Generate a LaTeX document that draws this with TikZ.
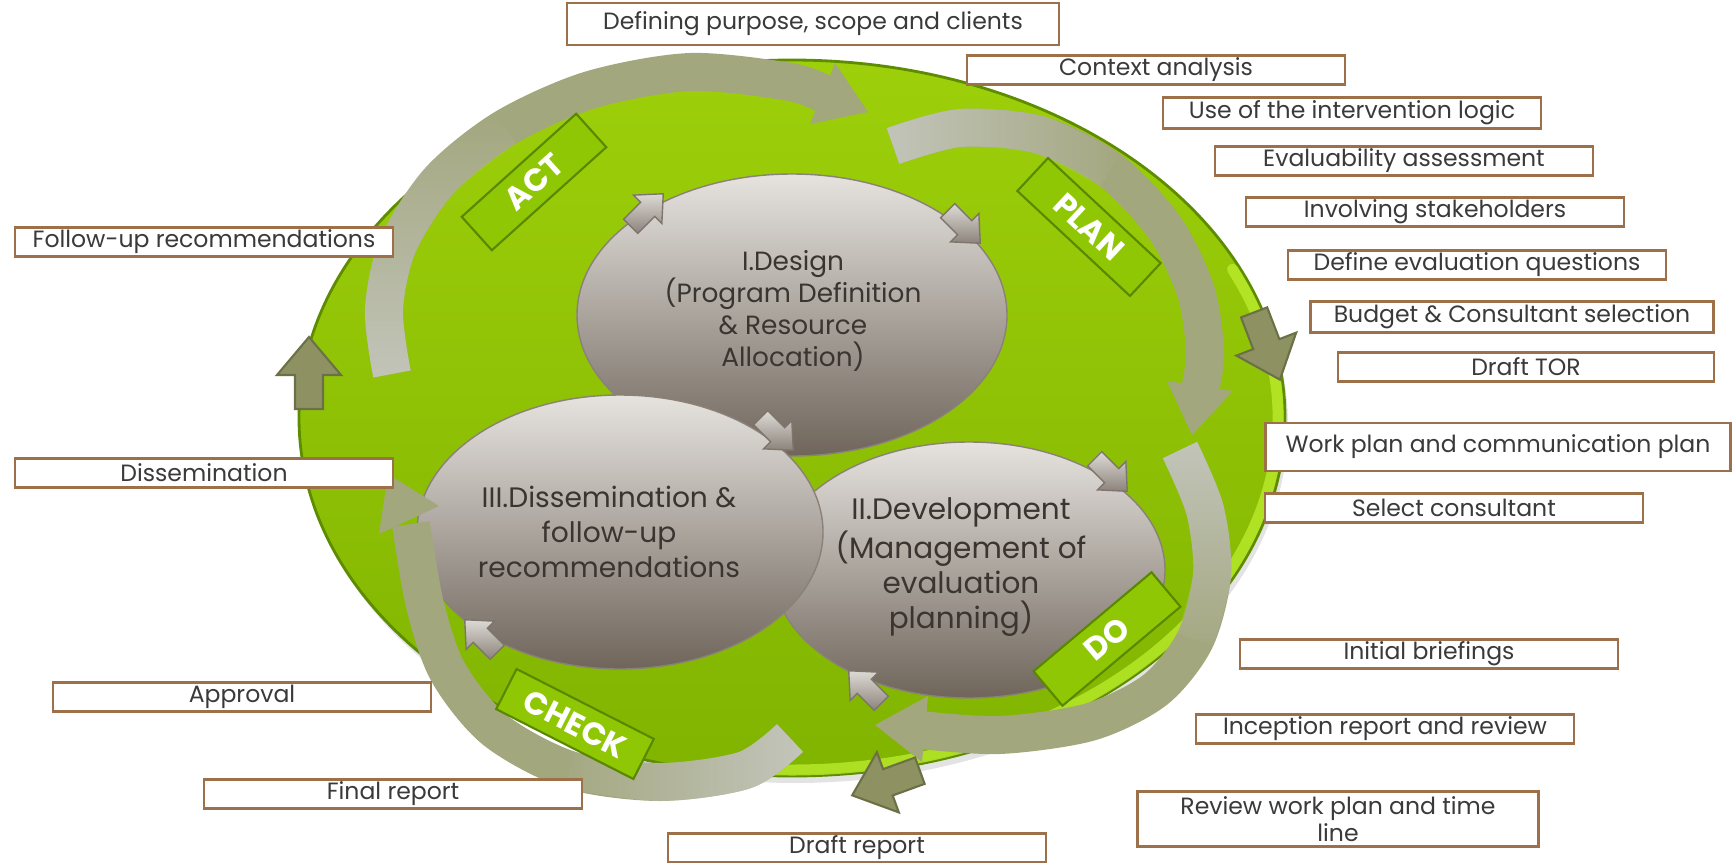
\documentclass[tikz,border=0pt]{standalone}
\usepackage{fontspec}
\setmainfont{Poppins}
\usetikzlibrary{arrows.meta,shapes.geometric,shadows,fadings,positioning}

\definecolor{leafTop}{HTML}{9DCF0A}
\definecolor{leafBot}{HTML}{80B400}
\definecolor{leafEdge}{HTML}{5E8C00}
\definecolor{leafGlow}{HTML}{BDEE2E}
\definecolor{phaseTop}{HTML}{E6E3DF}
\definecolor{phaseBot}{HTML}{6F655B}
\definecolor{phaseEdge}{HTML}{8A8178}
\definecolor{phaseText}{HTML}{3A3531}
\definecolor{stageFill}{HTML}{8FC705}
\definecolor{stageEdge}{HTML}{5A8700}
\definecolor{noteBrown}{HTML}{9C7049}
\definecolor{noteText}{HTML}{3A3A3A}
\definecolor{loopHead}{HTML}{A3A77E}
\definecolor{loopTail}{HTML}{C4C6BD}
\definecolor{nudgeTop}{HTML}{DDDAD5}
\definecolor{nudgeBot}{HTML}{8C847B}
\definecolor{nudgeEdge}{HTML}{7E766E}
\definecolor{pushFill}{HTML}{8E9263}
\definecolor{pushEdge}{HTML}{6C7046}

\tikzfading[name=tailfade, left color=transparent!0, right color=transparent!100]

\tikzset{
  notebox/.style={draw=noteBrown, line width=0.7pt, fill=white, minimum width=37.8mm,
    minimum height=2.9mm, inner sep=0pt, text=noteText, font=\fontsize{6.7}{7.8}\selectfont},
  phase/.style={ellipse, draw=phaseEdge, line width=0.4pt, top color=phaseTop,
    bottom color=phaseBot, inner sep=0pt},
  phasetext/.style={align=center, text=phaseText, font=\fontsize{8.4}{10}\selectfont},
  stage/.style={draw=stageEdge, fill=stageFill, line width=0.6pt, text=white,
    font=\fontsize{9}{10}\selectfont\bfseries, minimum width=15.4mm, minimum height=4.5mm, inner sep=0pt},
  loop body/.style={line width=3.8mm, draw=loopHead},
  loop head/.style={fill=loopHead},
  loop tail/.style={line width=3.8mm, draw=loopTail, path fading=tailfade},
  nudge/.pic={\shade[draw=nudgeEdge, line width=0.4pt, top color=nudgeTop, bottom color=nudgeBot]
    (-23,-10) -- (1,-10) -- (1,-20) -- (23,0) -- (1,20) -- (1,10) -- (-23,10) -- cycle;},
  push/.pic={\draw[pushEdge, fill=pushFill, line width=0.6pt]
    (-36,-14) -- (-2,-14) -- (-2,-32) -- (36,0) -- (-2,32) -- (-2,14) -- (-36,14) -- cycle;}
}

\begin{document}
\begin{tikzpicture}[x=0.1mm,y=-0.1mm]
\useasboundingbox (0,0) rectangle (1733,862);

% the green disc
\node[ellipse, draw=leafEdge, line width=0.8pt, top color=leafTop, bottom color=leafBot,
  minimum width=98.6mm, minimum height=71.6mm,
  drop shadow={shadow xshift=0.3mm, shadow yshift=-0.7mm, opacity=0.22}] (disc) at (792,418) {};
\draw[leafGlow, line width=1.1mm, opacity=0.75, line cap=round]
  (792,418) ++(-25:486 and 352) arc[start angle=-25, end angle=100, x radius=486, y radius=352];

% three phases
\node[phase, minimum width=43mm, minimum height=28.2mm] (design) at (792,315) {};
\node[phase, minimum width=39.2mm, minimum height=25.6mm] (develop) at (969,570) {};
\node[phase, minimum width=40.6mm, minimum height=27.4mm] (dissem) at (620,532) {};

\node[phasetext, font=\fontsize{7.5}{9.1}\selectfont] (designtxt) at (793,311) {I.Design\\(Program Definition\\\& Resource\\Allocation)};
\node[phasetext] (developtxt) at (961,567) {II.Development\\(Management of\\evaluation\\planning)};
\node[phasetext, font=\fontsize{8}{10}\selectfont] (dissemtxt) at (609,532) {III.Dissemination \&\\follow-up\\recommendations};

% small arrows round the phases
\pic[rotate=45] at (647,210) {nudge};
\pic[rotate=-45] at (964,227) {nudge};
\pic[rotate=-45] at (777,434) {nudge};
\pic[rotate=-45] at (1111,475) {nudge};
\pic[rotate=135] at (865,687) {nudge};
\pic[rotate=135] at (481,636) {nudge};

% the four loop arrows: body, faded tail, head
\draw[loop body] plot[smooth] coordinates {(392,374) (384,310) (398,245) (440,180) (505,128) (590,90) (690,72) (790,82) (826,95)};
\draw[loop tail, fading angle=90] plot[smooth] coordinates {(392,374) (384,310) (398,245) (440,180) (505,128)};
\fill[loop head] (810,124) -- (868,112) -- (835,63) -- cycle;

\draw[loop body] plot[smooth] coordinates {(893,146) (960,128) (1040,135) (1110,170) (1165,228) (1196,292) (1205,352) (1200,390)};
\draw[loop tail] plot[smooth] coordinates {(893,146) (960,128) (1040,135) (1110,170)};
\fill[loop head] (1167,381) -- (1192,435) -- (1233,391) -- cycle;

\draw[loop body] plot[smooth] coordinates {(1180,450) (1205,510) (1212,575) (1195,640) (1155,690) (1090,722) (1000,735) (921,730)};
\draw[loop tail, fading angle=-90] plot[smooth] coordinates {(1180,450) (1205,510) (1212,575) (1195,640)};
\fill[loop head] (928,696) -- (875,725) -- (922,762) -- cycle;

\draw[loop body] plot[smooth] coordinates {(790,738) (745,770) (660,782) (570,770) (495,730) (448,672) (425,605) (411,524)};
\draw[loop tail, fading angle=180] plot[smooth] coordinates {(790,738) (745,770) (660,782) (570,770)};
\fill[loop head] (439,506) -- (388,474) -- (379,534) -- cycle;

% stage tags
\node[stage, rotate=42] (act) at (534,182) {ACT};
\node[stage, rotate=-43] (plan) at (1089,227) {PLAN};
\node[stage, rotate=40] (do) at (1107,639) {DO};
\node[stage, rotate=-27] (check) at (575,724) {CHECK};

% olive arrows at the rim
\pic[rotate=90] at (309,373) {push};
\pic[rotate=-69] at (1267,346) {push};
\pic[rotate=200] at (886,783) {push};

% notes
\node[notebox, minimum width=49.2mm, minimum height=4.2mm] (purpose) at (813,24) {Defining purpose, scope and clients};
\node[notebox] (context) at (1156,70) {Context analysis};
\node[notebox, minimum height=3.1mm] (logic) at (1352,113) {Use of the intervention logic};
\node[notebox] (evaluab) at (1404,161) {Evaluability assessment};
\node[notebox] (stake) at (1435,212) {Involving stakeholders};
\node[notebox] (questions) at (1477,265) {Define evaluation questions};
\node[notebox, minimum width=40.3mm, minimum height=3.1mm] (budget) at (1512,317) {Budget \& Consultant selection};
\node[notebox, minimum width=37.6mm] (tor) at (1526,367) {Draft TOR};
\node[notebox, minimum width=46.5mm, minimum height=4.8mm] (workplan) at (1498,447) {Work plan and communication plan};
\node[notebox] (select) at (1454,508) {Select consultant};
\node[notebox] (briefing) at (1429,654) {Initial briefings};
\node[notebox] (inception) at (1385,729) {Inception report and review};
\node[notebox, minimum width=40.1mm, minimum height=5.5mm, align=center] (review) at (1338,819) {Review work plan and time\\line};
\node[notebox] (draft) at (857,848) {Draft report};
\node[notebox] (final) at (393,794) {Final report};
\node[notebox] (approval) at (242,697) {Approval};
\node[notebox] (dissemnote) at (204,473) {Dissemination};
\node[notebox] (followup) at (204,242) {Follow-up recommendations};
\end{tikzpicture}
\end{document}
